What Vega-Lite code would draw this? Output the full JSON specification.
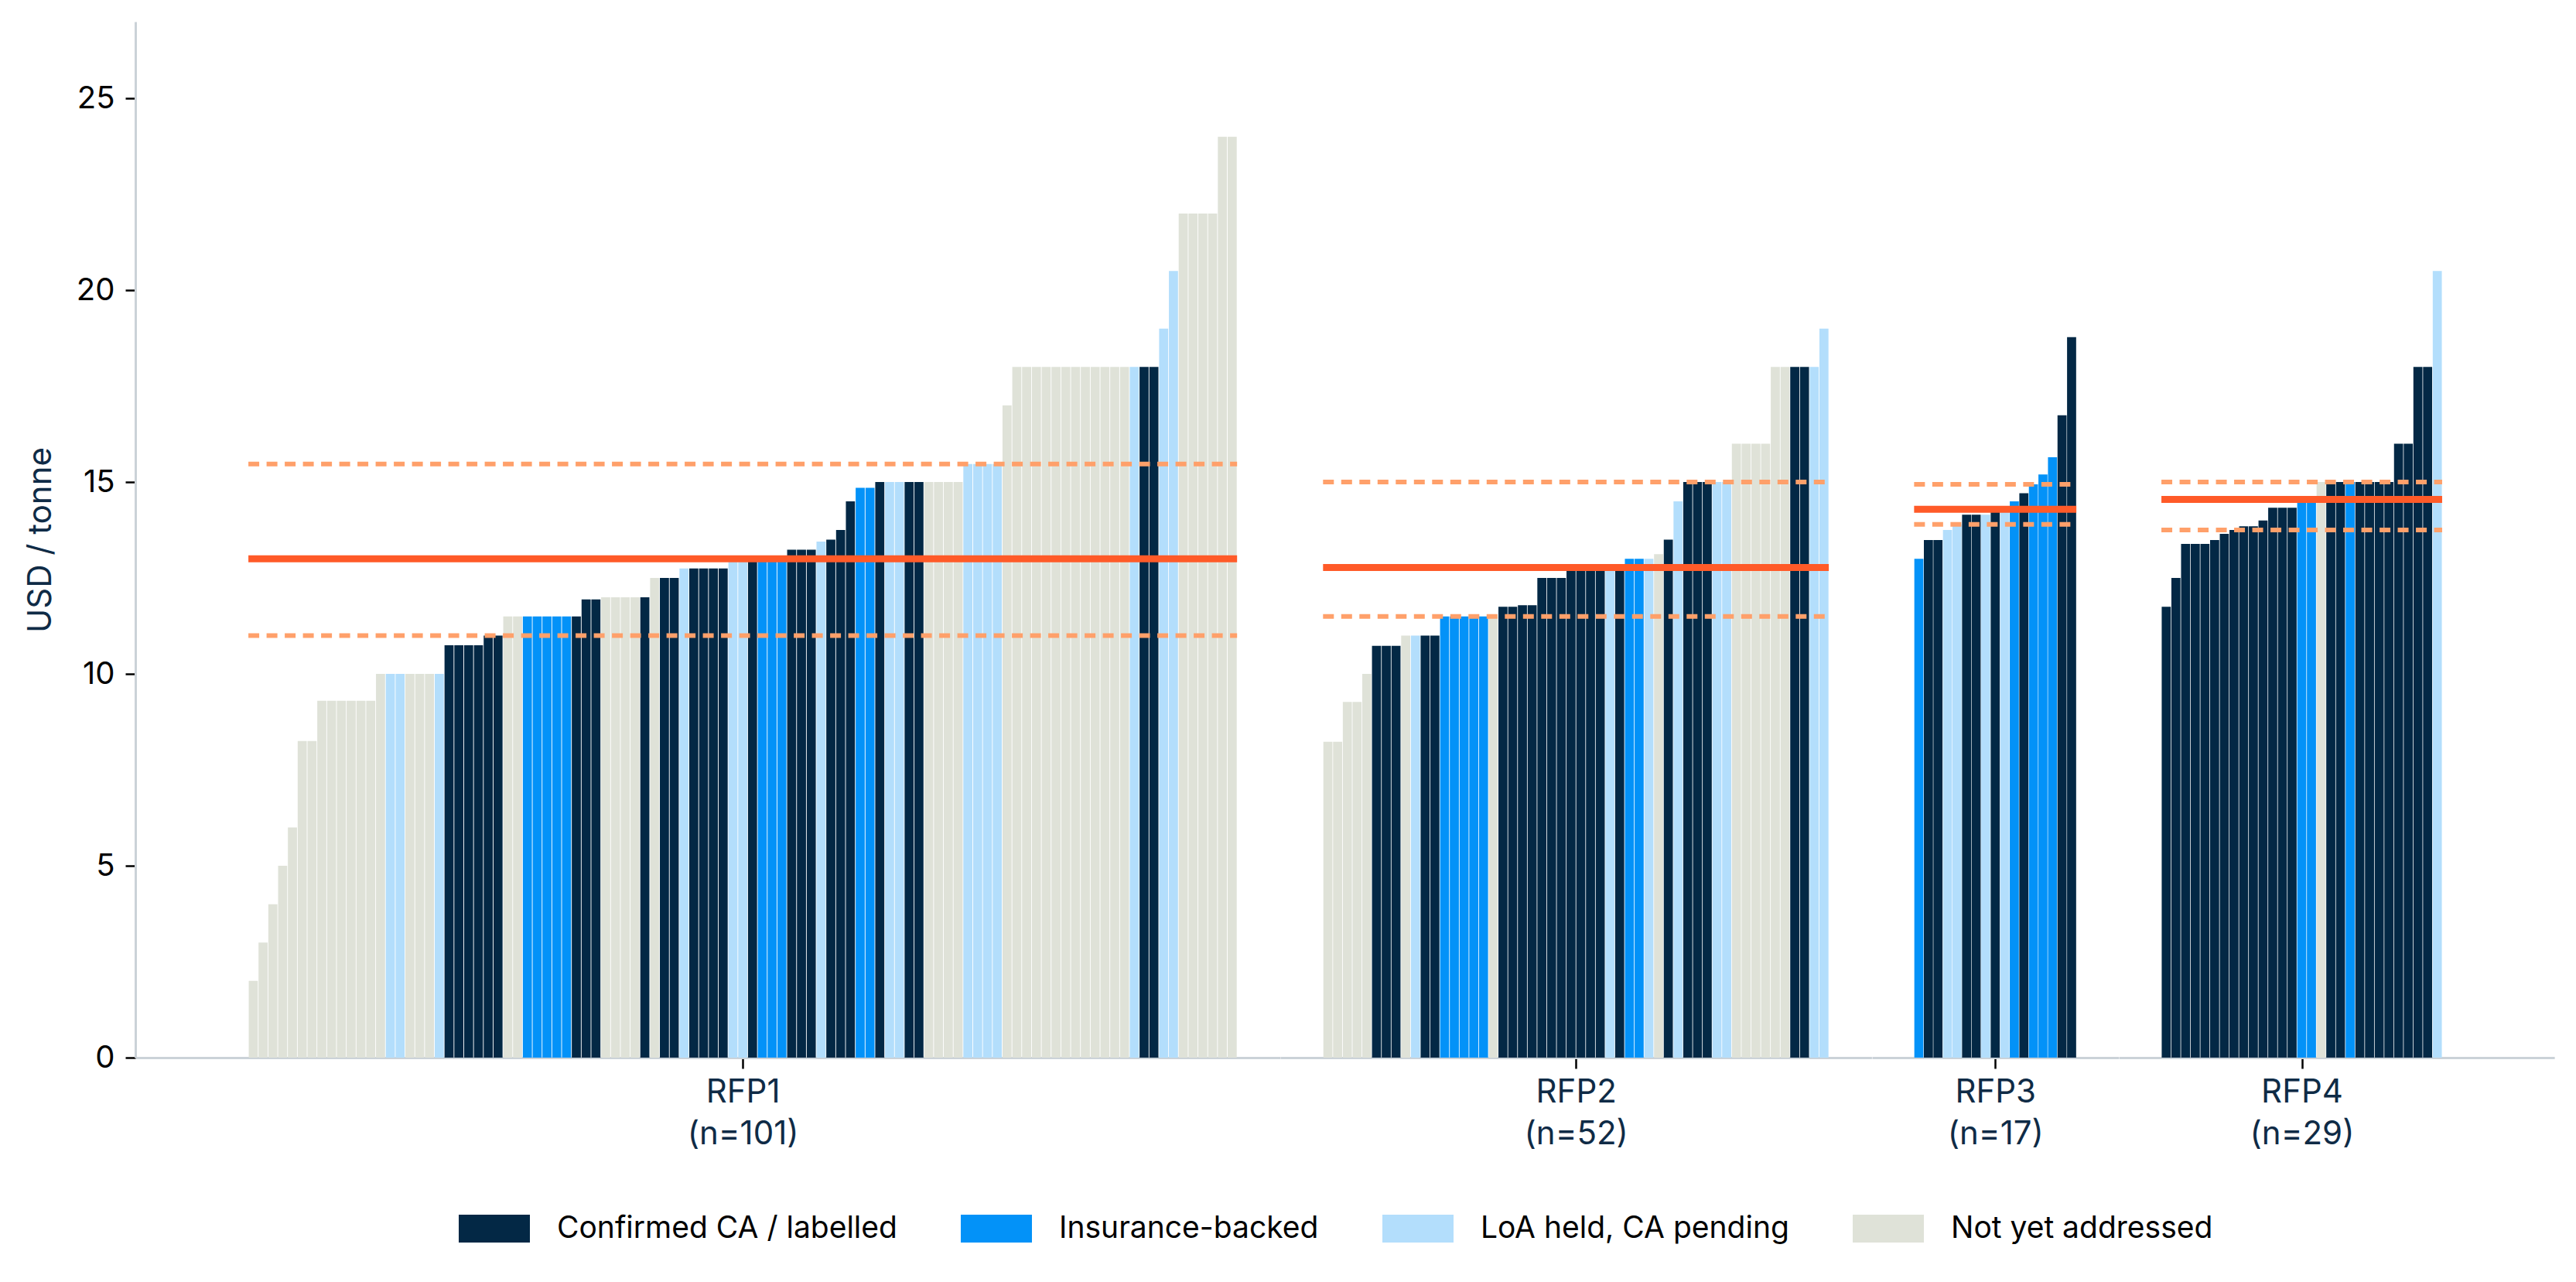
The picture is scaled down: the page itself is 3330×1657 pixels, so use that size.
{
  "$schema": "https://vega.github.io/schema/vega-lite/v6.json",
  "padding": {"left": 31, "top": 28, "right": 0, "bottom": 30},
  "background": "#ffffff",
  "spacing": 0,
  "datasets": {
    "offers": [
      {"rfp":"RFP1","price":2,"status":"Not yet addressed"},
      {"rfp":"RFP1","price":3,"status":"Not yet addressed"},
      {"rfp":"RFP1","price":4,"status":"Not yet addressed"},
      {"rfp":"RFP1","price":5,"status":"Not yet addressed"},
      {"rfp":"RFP1","price":6,"status":"Not yet addressed"},
      {"rfp":"RFP1","price":8.25,"status":"Not yet addressed"},
      {"rfp":"RFP1","price":8.25,"status":"Not yet addressed"},
      {"rfp":"RFP1","price":9.3,"status":"Not yet addressed"},
      {"rfp":"RFP1","price":9.3,"status":"Not yet addressed"},
      {"rfp":"RFP1","price":9.3,"status":"Not yet addressed"},
      {"rfp":"RFP1","price":9.3,"status":"Not yet addressed"},
      {"rfp":"RFP1","price":9.3,"status":"Not yet addressed"},
      {"rfp":"RFP1","price":9.3,"status":"Not yet addressed"},
      {"rfp":"RFP1","price":10,"status":"Not yet addressed"},
      {"rfp":"RFP1","price":10,"status":"LoA held, CA pending"},
      {"rfp":"RFP1","price":10,"status":"LoA held, CA pending"},
      {"rfp":"RFP1","price":10,"status":"Not yet addressed"},
      {"rfp":"RFP1","price":10,"status":"Not yet addressed"},
      {"rfp":"RFP1","price":10,"status":"Not yet addressed"},
      {"rfp":"RFP1","price":10,"status":"LoA held, CA pending"},
      {"rfp":"RFP1","price":10.75,"status":"Confirmed CA / labelled"},
      {"rfp":"RFP1","price":10.75,"status":"Confirmed CA / labelled"},
      {"rfp":"RFP1","price":10.75,"status":"Confirmed CA / labelled"},
      {"rfp":"RFP1","price":10.75,"status":"Confirmed CA / labelled"},
      {"rfp":"RFP1","price":11,"status":"Confirmed CA / labelled"},
      {"rfp":"RFP1","price":11,"status":"Confirmed CA / labelled"},
      {"rfp":"RFP1","price":11.5,"status":"Not yet addressed"},
      {"rfp":"RFP1","price":11.5,"status":"Not yet addressed"},
      {"rfp":"RFP1","price":11.5,"status":"Insurance-backed"},
      {"rfp":"RFP1","price":11.5,"status":"Insurance-backed"},
      {"rfp":"RFP1","price":11.5,"status":"Insurance-backed"},
      {"rfp":"RFP1","price":11.5,"status":"Insurance-backed"},
      {"rfp":"RFP1","price":11.5,"status":"Insurance-backed"},
      {"rfp":"RFP1","price":11.5,"status":"Confirmed CA / labelled"},
      {"rfp":"RFP1","price":11.94,"status":"Confirmed CA / labelled"},
      {"rfp":"RFP1","price":11.94,"status":"Confirmed CA / labelled"},
      {"rfp":"RFP1","price":12,"status":"Not yet addressed"},
      {"rfp":"RFP1","price":12,"status":"Not yet addressed"},
      {"rfp":"RFP1","price":12,"status":"Not yet addressed"},
      {"rfp":"RFP1","price":12,"status":"Not yet addressed"},
      {"rfp":"RFP1","price":12,"status":"Confirmed CA / labelled"},
      {"rfp":"RFP1","price":12.5,"status":"Not yet addressed"},
      {"rfp":"RFP1","price":12.5,"status":"Confirmed CA / labelled"},
      {"rfp":"RFP1","price":12.5,"status":"Confirmed CA / labelled"},
      {"rfp":"RFP1","price":12.75,"status":"LoA held, CA pending"},
      {"rfp":"RFP1","price":12.75,"status":"Confirmed CA / labelled"},
      {"rfp":"RFP1","price":12.75,"status":"Confirmed CA / labelled"},
      {"rfp":"RFP1","price":12.75,"status":"Confirmed CA / labelled"},
      {"rfp":"RFP1","price":12.75,"status":"Confirmed CA / labelled"},
      {"rfp":"RFP1","price":13,"status":"LoA held, CA pending"},
      {"rfp":"RFP1","price":13,"status":"LoA held, CA pending"},
      {"rfp":"RFP1","price":13,"status":"Confirmed CA / labelled"},
      {"rfp":"RFP1","price":13,"status":"Insurance-backed"},
      {"rfp":"RFP1","price":13,"status":"Insurance-backed"},
      {"rfp":"RFP1","price":13,"status":"Insurance-backed"},
      {"rfp":"RFP1","price":13.24,"status":"Confirmed CA / labelled"},
      {"rfp":"RFP1","price":13.24,"status":"Confirmed CA / labelled"},
      {"rfp":"RFP1","price":13.24,"status":"Confirmed CA / labelled"},
      {"rfp":"RFP1","price":13.45,"status":"LoA held, CA pending"},
      {"rfp":"RFP1","price":13.5,"status":"Confirmed CA / labelled"},
      {"rfp":"RFP1","price":13.75,"status":"Confirmed CA / labelled"},
      {"rfp":"RFP1","price":14.5,"status":"Confirmed CA / labelled"},
      {"rfp":"RFP1","price":14.85,"status":"Insurance-backed"},
      {"rfp":"RFP1","price":14.85,"status":"Insurance-backed"},
      {"rfp":"RFP1","price":15,"status":"Confirmed CA / labelled"},
      {"rfp":"RFP1","price":15,"status":"LoA held, CA pending"},
      {"rfp":"RFP1","price":15,"status":"LoA held, CA pending"},
      {"rfp":"RFP1","price":15,"status":"Confirmed CA / labelled"},
      {"rfp":"RFP1","price":15,"status":"Confirmed CA / labelled"},
      {"rfp":"RFP1","price":15,"status":"Not yet addressed"},
      {"rfp":"RFP1","price":15,"status":"Not yet addressed"},
      {"rfp":"RFP1","price":15,"status":"Not yet addressed"},
      {"rfp":"RFP1","price":15,"status":"Not yet addressed"},
      {"rfp":"RFP1","price":15.47,"status":"LoA held, CA pending"},
      {"rfp":"RFP1","price":15.47,"status":"LoA held, CA pending"},
      {"rfp":"RFP1","price":15.47,"status":"LoA held, CA pending"},
      {"rfp":"RFP1","price":15.47,"status":"LoA held, CA pending"},
      {"rfp":"RFP1","price":17,"status":"Not yet addressed"},
      {"rfp":"RFP1","price":18,"status":"Not yet addressed"},
      {"rfp":"RFP1","price":18,"status":"Not yet addressed"},
      {"rfp":"RFP1","price":18,"status":"Not yet addressed"},
      {"rfp":"RFP1","price":18,"status":"Not yet addressed"},
      {"rfp":"RFP1","price":18,"status":"Not yet addressed"},
      {"rfp":"RFP1","price":18,"status":"Not yet addressed"},
      {"rfp":"RFP1","price":18,"status":"Not yet addressed"},
      {"rfp":"RFP1","price":18,"status":"Not yet addressed"},
      {"rfp":"RFP1","price":18,"status":"Not yet addressed"},
      {"rfp":"RFP1","price":18,"status":"Not yet addressed"},
      {"rfp":"RFP1","price":18,"status":"Not yet addressed"},
      {"rfp":"RFP1","price":18,"status":"Not yet addressed"},
      {"rfp":"RFP1","price":18,"status":"LoA held, CA pending"},
      {"rfp":"RFP1","price":18,"status":"Confirmed CA / labelled"},
      {"rfp":"RFP1","price":18,"status":"Confirmed CA / labelled"},
      {"rfp":"RFP1","price":19,"status":"LoA held, CA pending"},
      {"rfp":"RFP1","price":20.5,"status":"LoA held, CA pending"},
      {"rfp":"RFP1","price":22,"status":"Not yet addressed"},
      {"rfp":"RFP1","price":22,"status":"Not yet addressed"},
      {"rfp":"RFP1","price":22,"status":"Not yet addressed"},
      {"rfp":"RFP1","price":22,"status":"Not yet addressed"},
      {"rfp":"RFP1","price":24,"status":"Not yet addressed"},
      {"rfp":"RFP1","price":24,"status":"Not yet addressed"},
      {"rfp":"RFP2","price":8.23,"status":"Not yet addressed"},
      {"rfp":"RFP2","price":8.23,"status":"Not yet addressed"},
      {"rfp":"RFP2","price":9.27,"status":"Not yet addressed"},
      {"rfp":"RFP2","price":9.27,"status":"Not yet addressed"},
      {"rfp":"RFP2","price":10,"status":"Not yet addressed"},
      {"rfp":"RFP2","price":10.73,"status":"Confirmed CA / labelled"},
      {"rfp":"RFP2","price":10.73,"status":"Confirmed CA / labelled"},
      {"rfp":"RFP2","price":10.73,"status":"Confirmed CA / labelled"},
      {"rfp":"RFP2","price":11,"status":"Not yet addressed"},
      {"rfp":"RFP2","price":11,"status":"LoA held, CA pending"},
      {"rfp":"RFP2","price":11,"status":"Confirmed CA / labelled"},
      {"rfp":"RFP2","price":11,"status":"Confirmed CA / labelled"},
      {"rfp":"RFP2","price":11.5,"status":"Insurance-backed"},
      {"rfp":"RFP2","price":11.5,"status":"Insurance-backed"},
      {"rfp":"RFP2","price":11.5,"status":"Insurance-backed"},
      {"rfp":"RFP2","price":11.5,"status":"Insurance-backed"},
      {"rfp":"RFP2","price":11.5,"status":"Insurance-backed"},
      {"rfp":"RFP2","price":11.5,"status":"Not yet addressed"},
      {"rfp":"RFP2","price":11.75,"status":"Confirmed CA / labelled"},
      {"rfp":"RFP2","price":11.75,"status":"Confirmed CA / labelled"},
      {"rfp":"RFP2","price":11.79,"status":"Confirmed CA / labelled"},
      {"rfp":"RFP2","price":11.79,"status":"Confirmed CA / labelled"},
      {"rfp":"RFP2","price":12.5,"status":"Confirmed CA / labelled"},
      {"rfp":"RFP2","price":12.5,"status":"Confirmed CA / labelled"},
      {"rfp":"RFP2","price":12.5,"status":"Confirmed CA / labelled"},
      {"rfp":"RFP2","price":12.7,"status":"Confirmed CA / labelled"},
      {"rfp":"RFP2","price":12.85,"status":"Confirmed CA / labelled"},
      {"rfp":"RFP2","price":12.85,"status":"Confirmed CA / labelled"},
      {"rfp":"RFP2","price":12.85,"status":"Confirmed CA / labelled"},
      {"rfp":"RFP2","price":12.85,"status":"LoA held, CA pending"},
      {"rfp":"RFP2","price":12.85,"status":"Confirmed CA / labelled"},
      {"rfp":"RFP2","price":13,"status":"Insurance-backed"},
      {"rfp":"RFP2","price":13,"status":"Insurance-backed"},
      {"rfp":"RFP2","price":13,"status":"LoA held, CA pending"},
      {"rfp":"RFP2","price":13.12,"status":"Not yet addressed"},
      {"rfp":"RFP2","price":13.5,"status":"Confirmed CA / labelled"},
      {"rfp":"RFP2","price":14.5,"status":"LoA held, CA pending"},
      {"rfp":"RFP2","price":15,"status":"Confirmed CA / labelled"},
      {"rfp":"RFP2","price":15,"status":"Confirmed CA / labelled"},
      {"rfp":"RFP2","price":15,"status":"Confirmed CA / labelled"},
      {"rfp":"RFP2","price":15,"status":"LoA held, CA pending"},
      {"rfp":"RFP2","price":15,"status":"LoA held, CA pending"},
      {"rfp":"RFP2","price":16,"status":"Not yet addressed"},
      {"rfp":"RFP2","price":16,"status":"Not yet addressed"},
      {"rfp":"RFP2","price":16,"status":"Not yet addressed"},
      {"rfp":"RFP2","price":16,"status":"Not yet addressed"},
      {"rfp":"RFP2","price":18,"status":"Not yet addressed"},
      {"rfp":"RFP2","price":18,"status":"Not yet addressed"},
      {"rfp":"RFP2","price":18,"status":"Confirmed CA / labelled"},
      {"rfp":"RFP2","price":18,"status":"Confirmed CA / labelled"},
      {"rfp":"RFP2","price":18,"status":"LoA held, CA pending"},
      {"rfp":"RFP2","price":19,"status":"LoA held, CA pending"},
      {"rfp":"RFP3","price":13,"status":"Insurance-backed"},
      {"rfp":"RFP3","price":13.49,"status":"Confirmed CA / labelled"},
      {"rfp":"RFP3","price":13.49,"status":"Confirmed CA / labelled"},
      {"rfp":"RFP3","price":13.75,"status":"LoA held, CA pending"},
      {"rfp":"RFP3","price":13.9,"status":"LoA held, CA pending"},
      {"rfp":"RFP3","price":14.15,"status":"Confirmed CA / labelled"},
      {"rfp":"RFP3","price":14.15,"status":"Confirmed CA / labelled"},
      {"rfp":"RFP3","price":14.15,"status":"LoA held, CA pending"},
      {"rfp":"RFP3","price":14.29,"status":"Confirmed CA / labelled"},
      {"rfp":"RFP3","price":14.3,"status":"LoA held, CA pending"},
      {"rfp":"RFP3","price":14.5,"status":"Insurance-backed"},
      {"rfp":"RFP3","price":14.71,"status":"Confirmed CA / labelled"},
      {"rfp":"RFP3","price":14.94,"status":"Insurance-backed"},
      {"rfp":"RFP3","price":15.2,"status":"Insurance-backed"},
      {"rfp":"RFP3","price":15.65,"status":"Insurance-backed"},
      {"rfp":"RFP3","price":16.74,"status":"Confirmed CA / labelled"},
      {"rfp":"RFP3","price":18.78,"status":"Confirmed CA / labelled"},
      {"rfp":"RFP4","price":11.75,"status":"Confirmed CA / labelled"},
      {"rfp":"RFP4","price":12.5,"status":"Confirmed CA / labelled"},
      {"rfp":"RFP4","price":13.39,"status":"Confirmed CA / labelled"},
      {"rfp":"RFP4","price":13.39,"status":"Confirmed CA / labelled"},
      {"rfp":"RFP4","price":13.39,"status":"Confirmed CA / labelled"},
      {"rfp":"RFP4","price":13.49,"status":"Confirmed CA / labelled"},
      {"rfp":"RFP4","price":13.65,"status":"Confirmed CA / labelled"},
      {"rfp":"RFP4","price":13.75,"status":"Confirmed CA / labelled"},
      {"rfp":"RFP4","price":13.85,"status":"Confirmed CA / labelled"},
      {"rfp":"RFP4","price":13.85,"status":"Confirmed CA / labelled"},
      {"rfp":"RFP4","price":14,"status":"Confirmed CA / labelled"},
      {"rfp":"RFP4","price":14.33,"status":"Confirmed CA / labelled"},
      {"rfp":"RFP4","price":14.33,"status":"Confirmed CA / labelled"},
      {"rfp":"RFP4","price":14.33,"status":"Confirmed CA / labelled"},
      {"rfp":"RFP4","price":14.55,"status":"Insurance-backed"},
      {"rfp":"RFP4","price":14.55,"status":"Insurance-backed"},
      {"rfp":"RFP4","price":15,"status":"Not yet addressed"},
      {"rfp":"RFP4","price":15,"status":"Confirmed CA / labelled"},
      {"rfp":"RFP4","price":15,"status":"Confirmed CA / labelled"},
      {"rfp":"RFP4","price":15,"status":"Insurance-backed"},
      {"rfp":"RFP4","price":15,"status":"Confirmed CA / labelled"},
      {"rfp":"RFP4","price":15,"status":"Confirmed CA / labelled"},
      {"rfp":"RFP4","price":15,"status":"Confirmed CA / labelled"},
      {"rfp":"RFP4","price":15,"status":"Confirmed CA / labelled"},
      {"rfp":"RFP4","price":16,"status":"Confirmed CA / labelled"},
      {"rfp":"RFP4","price":16,"status":"Confirmed CA / labelled"},
      {"rfp":"RFP4","price":18,"status":"Confirmed CA / labelled"},
      {"rfp":"RFP4","price":18,"status":"Confirmed CA / labelled"},
      {"rfp":"RFP4","price":20.5,"status":"LoA held, CA pending"}
    ]
  },
  "resolve": {"scale": {"x": "independent", "y": "shared", "color": "shared"}, "legend": {"color": "shared"}},
  "hconcat": [
    {
      "width": 1479.8, "height": 1339,
      "data": {"name": "offers"},
      "transform": [{"filter": "datum.rfp === 'RFP1'"}, {"window": [{"op": "row_number", "as": "rank"}]}],
      "layer": [
        {
          "mark": {"type": "bar", "width": 11.74},
          "encoding": {
            "x": {"field": "rank", "type": "quantitative", "scale": {"domain": [-10.65, 105.5], "nice": false, "zero": false}, "axis": {"values": [51], "labelExpr": "['RFP1', '(n=101)']", "title": null}},
            "y": {"field": "price", "type": "quantitative", "title": "USD / tonne", "scale": {"domain": [0, 27], "nice": false}, "axis": {"values": [0, 5, 10, 15, 20, 25]}},
            "color": {"field": "status", "type": "nominal", "scale": {"domain": ["Confirmed CA / labelled", "Insurance-backed", "LoA held, CA pending", "Not yet addressed"], "range": ["#032845", "#0392f8", "#b3defc", "#dfe2d8"]},
              "legend": {"orient": "none", "legendX": 418, "legendY": 1514, "direction": "horizontal", "title": null, "symbolType": "M-1,-0.39H1V0.39H-1Z", "symbolSize": 8464, "symbolStrokeWidth": 0, "symbolOpacity": 1, "labelFontSize": 39, "labelFont": "Inter", "labelColor": "#000000", "labelOffset": 35, "columnPadding": 82, "labelLimit": 0}}
          }
        },
        {
          "transform": [{"aggregate": [{"op": "median", "field": "price", "as": "mid"}]}],
          "mark": {"type": "rule", "color": "#ff5a28", "strokeWidth": 9},
          "encoding": {"y": {"field": "mid", "type": "quantitative", "title": "USD / tonne"}, "x": {"datum": 0.5}, "x2": {"datum": 101.5}}
        },
        {
          "transform": [{"aggregate": [{"op": "q1", "field": "price", "as": "lo"}]}],
          "mark": {"type": "rule", "color": "#ffa06a", "strokeWidth": 6, "strokeDash": [14, 9.5]},
          "encoding": {"y": {"field": "lo", "type": "quantitative", "title": "USD / tonne"}, "x": {"datum": 0.5}, "x2": {"datum": 101.5}}
        },
        {
          "transform": [{"aggregate": [{"op": "q3", "field": "price", "as": "hi"}]}],
          "mark": {"type": "rule", "color": "#ffa06a", "strokeWidth": 6, "strokeDash": [14, 9.5]},
          "encoding": {"y": {"field": "hi", "type": "quantitative", "title": "USD / tonne"}, "x": {"datum": 0.5}, "x2": {"datum": 101.5}}
        }
      ]
    },
    {
      "width": 764.4, "height": 1339,
      "data": {"name": "offers"},
      "transform": [{"filter": "datum.rfp === 'RFP2'"}, {"window": [{"op": "row_number", "as": "rank"}]}],
      "layer": [
        {
          "mark": {"type": "bar", "width": 11.74},
          "encoding": {
            "x": {"field": "rank", "type": "quantitative", "scale": {"domain": [-3.5, 56.5], "nice": false, "zero": false}, "axis": {"values": [26.5], "labelExpr": "['RFP2', '(n=52)']", "title": null}},
            "y": {"field": "price", "type": "quantitative", "scale": {"domain": [0, 27], "nice": false}, "axis": null},
            "color": {"field": "status", "type": "nominal"}
          }
        },
        {
          "transform": [{"aggregate": [{"op": "median", "field": "price", "as": "mid"}]}],
          "mark": {"type": "rule", "color": "#ff5a28", "strokeWidth": 9},
          "encoding": {"y": {"field": "mid", "type": "quantitative", "axis": null}, "x": {"datum": 0.5}, "x2": {"datum": 52.5}}
        },
        {
          "transform": [{"aggregate": [{"op": "q1", "field": "price", "as": "lo"}]}],
          "mark": {"type": "rule", "color": "#ffa06a", "strokeWidth": 6, "strokeDash": [14, 9.5]},
          "encoding": {"y": {"field": "lo", "type": "quantitative", "axis": null}, "x": {"datum": 0.5}, "x2": {"datum": 52.5}}
        },
        {
          "transform": [{"aggregate": [{"op": "q3", "field": "price", "as": "hi"}]}],
          "mark": {"type": "rule", "color": "#ffa06a", "strokeWidth": 6, "strokeDash": [14, 9.5]},
          "encoding": {"y": {"field": "hi", "type": "quantitative", "axis": null}, "x": {"datum": 0.5}, "x2": {"datum": 52.5}}
        }
      ]
    },
    {
      "width": 318.5, "height": 1339,
      "data": {"name": "offers"},
      "transform": [{"filter": "datum.rfp === 'RFP3'"}, {"window": [{"op": "row_number", "as": "rank"}]}],
      "layer": [
        {
          "mark": {"type": "bar", "width": 11.74},
          "encoding": {
            "x": {"field": "rank", "type": "quantitative", "scale": {"domain": [-3.5, 21.5], "nice": false, "zero": false}, "axis": {"values": [9], "labelExpr": "['RFP3', '(n=17)']", "title": null}},
            "y": {"field": "price", "type": "quantitative", "scale": {"domain": [0, 27], "nice": false}, "axis": null},
            "color": {"field": "status", "type": "nominal"}
          }
        },
        {
          "transform": [{"aggregate": [{"op": "median", "field": "price", "as": "mid"}]}],
          "mark": {"type": "rule", "color": "#ff5a28", "strokeWidth": 9},
          "encoding": {"y": {"field": "mid", "type": "quantitative", "axis": null}, "x": {"datum": 0.5}, "x2": {"datum": 17.5}}
        },
        {
          "transform": [{"aggregate": [{"op": "q1", "field": "price", "as": "lo"}]}],
          "mark": {"type": "rule", "color": "#ffa06a", "strokeWidth": 6, "strokeDash": [14, 9.5]},
          "encoding": {"y": {"field": "lo", "type": "quantitative", "axis": null}, "x": {"datum": 0.5}, "x2": {"datum": 17.5}}
        },
        {
          "transform": [{"aggregate": [{"op": "q3", "field": "price", "as": "hi"}]}],
          "mark": {"type": "rule", "color": "#ffa06a", "strokeWidth": 6, "strokeDash": [14, 9.5]},
          "encoding": {"y": {"field": "hi", "type": "quantitative", "axis": null}, "x": {"datum": 0.5}, "x2": {"datum": 17.5}}
        }
      ]
    },
    {
      "width": 563.1, "height": 1339,
      "data": {"name": "offers"},
      "transform": [{"filter": "datum.rfp === 'RFP4'"}, {"window": [{"op": "row_number", "as": "rank"}]}],
      "layer": [
        {
          "mark": {"type": "bar", "width": 11.74},
          "encoding": {
            "x": {"field": "rank", "type": "quantitative", "scale": {"domain": [-3.5, 40.7], "nice": false, "zero": false}, "axis": {"values": [15], "labelExpr": "['RFP4', '(n=29)']", "title": null}},
            "y": {"field": "price", "type": "quantitative", "scale": {"domain": [0, 27], "nice": false}, "axis": null},
            "color": {"field": "status", "type": "nominal"}
          }
        },
        {
          "transform": [{"aggregate": [{"op": "median", "field": "price", "as": "mid"}]}],
          "mark": {"type": "rule", "color": "#ff5a28", "strokeWidth": 9},
          "encoding": {"y": {"field": "mid", "type": "quantitative", "axis": null}, "x": {"datum": 0.5}, "x2": {"datum": 29.5}}
        },
        {
          "transform": [{"aggregate": [{"op": "q1", "field": "price", "as": "lo"}]}],
          "mark": {"type": "rule", "color": "#ffa06a", "strokeWidth": 6, "strokeDash": [14, 9.5]},
          "encoding": {"y": {"field": "lo", "type": "quantitative", "axis": null}, "x": {"datum": 0.5}, "x2": {"datum": 29.5}}
        },
        {
          "transform": [{"aggregate": [{"op": "q3", "field": "price", "as": "hi"}]}],
          "mark": {"type": "rule", "color": "#ffa06a", "strokeWidth": 6, "strokeDash": [14, 9.5]},
          "encoding": {"y": {"field": "hi", "type": "quantitative", "axis": null}, "x": {"datum": 0.5}, "x2": {"datum": 29.5}}
        }
      ]
    }
  ],
  "config": {
    "font": "Inter",
    "view": {"stroke": null},
    "concat": {"spacing": 0},
    "axis": {"grid": false, "domainColor": "#cbd2d8", "domainWidth": 3, "tickColor": "#000000", "tickWidth": 2.5, "labelFont": "Inter", "titleFont": "Inter"},
    "axisX": {"tickSize": 14, "labelColor": "#0f2b46", "labelPadding": 10, "labelLineHeight": 54, "labelFontSize": 42},
    "axisY": {"tickSize": 13, "labelColor": "#000000", "labelPadding": 14, "labelFontSize": 40, "titleColor": "#0f2b46", "titleFontSize": 42, "titleFontWeight": "normal", "titlePadding": 24}
  }
}
